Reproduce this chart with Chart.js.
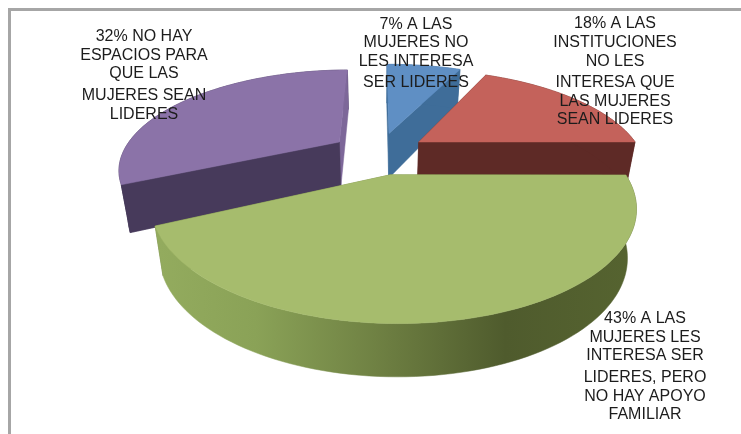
<!DOCTYPE html>
<html>
<head>
<meta charset="utf-8">
<script src="https://cdn.jsdelivr.net/npm/chart.js@4"></script>
<style>html,body{margin:0;padding:0;background:#fff}canvas{display:block}</style>
</head>
<body>
<canvas id="c" width="741" height="434"></canvas>
<script>
const categories = [
  "A LAS MUJERES NO LES INTERESA SER LIDERES",
  "A LAS INSTITUCIONES NO LES INTERESA QUE LAS MUJERES SEAN LIDERES",
  "A LAS MUJERES LES INTERESA SER LIDERES, PERO NO HAY APOYO FAMILIAR",
  "NO HAY ESPACIOS PARA QUE LAS MUJERES SEAN LIDERES"
];
const values = [7, 18, 43, 32];
const labelLines = [
  ["7% A LAS", "MUJERES NO", "LES INTERESA", "SER LIDERES"],
  ["18% A LAS", "INSTITUCIONES", "NO LES", "INTERESA QUE", "LAS MUJERES", "SEAN LIDERES"],
  ["43% A LAS", "MUJERES LES", "INTERESA SER", "LIDERES, PERO", "NO HAY APOYO", "FAMILIAR"],
  ["32% NO HAY", "ESPACIOS PARA", "QUE LAS", "MUJERES SEAN", "LIDERES"]
];
const topColors = ["#5f8fc4", "#c4625b", "#a6bc6d", "#8b73a8"];
const wallColors = ["#3f6d99", "#5e2a26", "#6f8143", "#473a5b"];

/* styling and layout only */
const labelX = [416, 615, 645, 144];
const labelY = [
  [25, 43, 62, 83],
  [24, 43, 62, 83, 102, 120],
  [319, 338, 356, 378, 397, 415],
  [37, 56, 74, 96, 115]
];
const VIEW = {cx: 379, cy: 153, rx: 220, ry: 96, p: 0.26, tilt: 0.01, shrink: 0.965, depth: 46, depthV: 6};
const drawOrder = [0, 3, 1, 2];

function project(U, V) {
  const w = 1 / (1 - VIEW.p * V - VIEW.tilt * U);
  return {x: VIEW.cx + VIEW.rx * U * w, y: VIEW.cy + VIEW.ry * V * w};
}
function lower(U, V) {
  const t = project(U, V);
  return {
    x: VIEW.cx + (t.x - VIEW.cx) * VIEW.shrink,
    y: t.y + VIEW.depth + VIEW.depthV * V
  };
}
function poly(ctx, pts, fill) {
  ctx.beginPath();
  pts.forEach((q, i) => i ? ctx.lineTo(q.x, q.y) : ctx.moveTo(q.x, q.y));
  ctx.closePath();
  ctx.fillStyle = fill;
  ctx.fill();
  ctx.strokeStyle = fill;
  ctx.lineWidth = 0.5;
  ctx.stroke();
}
function rimFill(ctx, i) {
  if (i !== 2) return wallColors[i];
  const g = ctx.createLinearGradient(160, 0, 640, 0);
  g.addColorStop(0, "#93ab5e");
  g.addColorStop(0.2, "#8aa257");
  g.addColorStop(0.45, "#6f8143");
  g.addColorStop(0.72, "#4f5b2d");
  g.addColorStop(1, "#566430");
  return g;
}

const pie3d = {
  id: "pie3d",
  beforeDraw(chart) {
    const ctx = chart.ctx;
    ctx.save();
    ctx.strokeStyle = "#a6a6a6";
    ctx.lineWidth = 3;
    ctx.beginPath();
    ctx.moveTo(9.5, 434);
    ctx.lineTo(9.5, 9.5);
    ctx.lineTo(741, 9.5);
    ctx.stroke();
    ctx.restore();
  },
  beforeDatasetsDraw(chart) {
    const ctx = chart.ctx;
    const arcs = chart.getDatasetMeta(0).data;
    ctx.save();
    drawOrder.forEach(i => {
      const a = arcs[i];
      const R = a.outerRadius;
      const mid = (a.startAngle + a.endAngle) / 2;
      const d = a.options.offset / R;
      const ox = d * Math.cos(mid), oy = d * Math.sin(mid);
      const n = 90;
      const rim = [];
      for (let k = 0; k <= n; k++) {
        const t = a.startAngle + (a.endAngle - a.startAngle) * k / n;
        rim.push([ox + Math.cos(t), oy + Math.sin(t)]);
      }
      const top = rim.map(r => project(r[0], r[1]));
      const bot = rim.map(r => lower(r[0], r[1]));
      const ap = project(ox, oy), apB = lower(ox, oy);
      // radial walls and outer wall, back to front
      poly(ctx, [ap, top[0], bot[0], apB], wallColors[i]);
      if (i !== 3) poly(ctx, [ap, top[n], bot[n], apB], wallColors[i]);
      poly(ctx, top.concat(bot.slice().reverse()), rimFill(ctx, i));
      if (i === 3) {
        poly(ctx, [ap, top[n], bot[n], apB], "#7d6799");
        poly(ctx, [ap, top[0], bot[0], apB], wallColors[i]);
      }
      // top face
      poly(ctx, [ap].concat(top), a.options.backgroundColor);
    });
    ctx.restore();
    return false;
  },
  afterDraw(chart) {
    const ctx = chart.ctx;
    ctx.save();
    ctx.font = '16px "Liberation Sans"';
    ctx.fillStyle = "#1c1c1c";
    ctx.textAlign = "center";
    ctx.textBaseline = "middle";
    labelLines.forEach((lines, i) => {
      lines.forEach((s, j) => ctx.fillText(s, labelX[i], labelY[i][j]));
    });
    ctx.restore();
  }
};

new Chart(document.getElementById("c"), {
  type: "pie",
  data: {
    labels: categories,
    datasets: [{
      data: values,
      backgroundColor: topColors,
      borderWidth: 0,
      offset: 43
    }]
  },
  options: {
    responsive: false,
    animation: false,
    layout: {padding: 0},
    plugins: {legend: {display: false}, tooltip: {enabled: false}}
  },
  plugins: [pie3d]
});
</script>
</body>
</html>
